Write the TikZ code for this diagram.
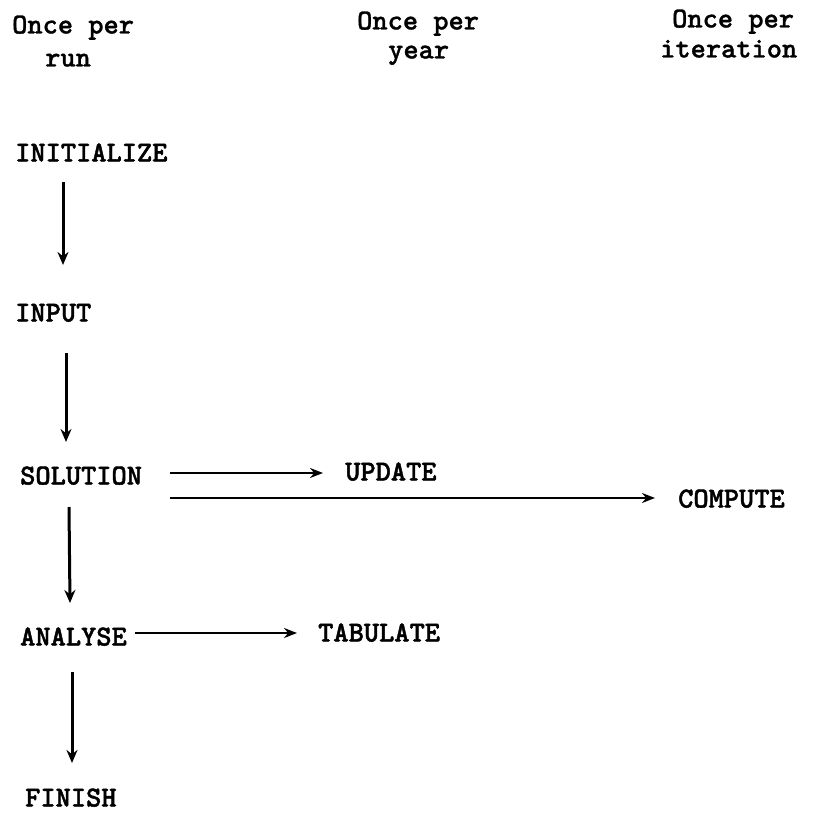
\documentclass[tikz,border=0pt]{standalone}
\usepackage{fontspec}
\newfontfamily\twlab{lmmonolt10-bold.otf}[FakeBold=1.5]
\newfontfamily\twhdr{lmmonolt10-bold.otf}[FakeBold=1]
\usetikzlibrary{arrows.meta,calc}
\tikzset{
  lbl/.style={anchor=west, inner sep=0pt, text height=17pt, text depth=0pt,
              font=\twlab\fontsize{29}{31}\selectfont},
  hdr/.style={anchor=west, inner sep=0pt, text height=17pt, text depth=0pt,
              font=\twhdr\fontsize{29}{31}\selectfont},
  varr/.style={line width=3pt, -{Stealth[length=13pt,width=11pt]}},
  harr/.style={line width=2.5pt, -{Stealth[length=13pt,width=10pt]}}
}
\begin{document}
\begin{tikzpicture}[x=1pt,y=-1pt]
\useasboundingbox (0,0) rectangle (817,816);
% headers
\node[hdr] (h1a) at (12,25) {Once per};
\node[hdr] (h1b) at (45,58) {run};
\node[hdr] (h2a) at (357,21) {Once per};
\node[hdr] (h2b) at (388,50) {year};
\node[hdr] (h3a) at (672,19) {Once per};
\node[hdr] (h3b) at (660,49) {iteration};
% modules
\node[lbl] (init) at (15,153) {INITIALIZE};
\node[lbl] (input) at (15,313) {INPUT};
\node[lbl] (sol) at (20,476) {SOLUTION};
\node[lbl] (upd) at (345,472) {UPDATE};
\node[lbl] (comp) at (678,499) {COMPUTE};
\node[lbl] (ana) at (20,637) {ANALYSE};
\node[lbl] (tab) at (318,633) {TABULATE};
\node[lbl] (fin) at (25,798) {FINISH};
% vertical arrows
\draw[varr] ($(init.west)+(48,29)$) -- ($(input.west)+(48,-48)$);
\draw[varr] ($(input.west)+(51,40)$) -- ($(sol.west)+(46,-34)$);
\draw[varr] ($(sol.west)+(49,31)$) -- ($(ana.west)+(50,-34)$);
\draw[varr] ($(ana.west)+(52,35)$) -- ($(fin.west)+(47,-35)$);
% horizontal arrows
\draw[harr] ($(sol.east |- upd.west)+(28,1)$) -- ($(upd.west)+(-22,1)$);
\draw[harr] ($(sol.east |- comp.west)+(28,-1)$) -- ($(comp.west)+(-23,-1)$);
\draw[harr] ($(ana.east |- tab.west)+(8,0)$) -- ($(tab.west)+(-21,0)$);
\end{tikzpicture}
\end{document}
